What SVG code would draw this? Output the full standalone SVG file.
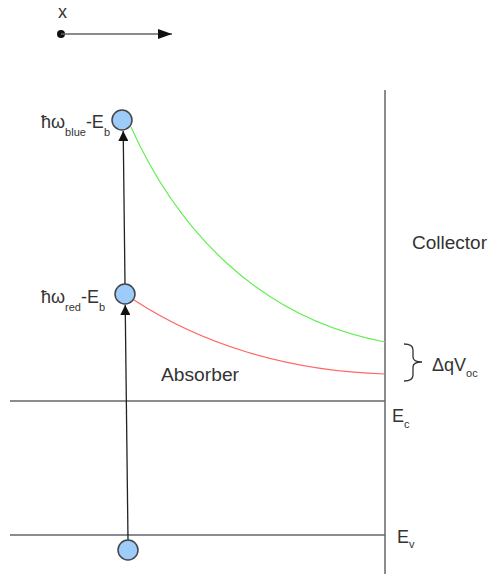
<svg xmlns="http://www.w3.org/2000/svg" width="490" height="574" viewBox="0 0 490 574">
<style>
text{font-family:"Liberation Sans",Arial,sans-serif;fill:#333;font-size:18px}
.sub{font-size:11px}
.ax{stroke:#666;stroke-width:1.5;fill:none}
.ar{stroke:#222;stroke-width:1.3;fill:none}
.dot{fill:#9dcbfa;stroke:#444;stroke-width:1.5}
</style>
<defs>
<marker id="ah" viewBox="0 0 10 10" refX="10" refY="5" markerWidth="10" markerHeight="10" markerUnits="userSpaceOnUse" orient="auto">
<path d="M0,0 L10,5 L0,10 z" fill="#111"/>
</marker>
<marker id="ah2" viewBox="0 0 14 10" refX="14" refY="5" markerWidth="14" markerHeight="10" markerUnits="userSpaceOnUse" orient="auto">
<path d="M0,0 L14,5 L0,10 z" fill="#111"/>
</marker>
</defs>
<g id="xaxis">
<text x="58" y="18" font-size="17">x</text>
<circle cx="61" cy="34" r="4" fill="#111"/>
<line x1="61" y1="34" x2="172" y2="34" stroke="#666" stroke-width="1.5" marker-end="url(#ah2)"/>
</g>
<g id="levels">
<line class="ax" x1="385" y1="90" x2="385" y2="574"/>
<line class="ax" x1="10" y1="401" x2="385" y2="401"/>
<line class="ax" x1="10" y1="535" x2="385" y2="535"/>
</g>
<g id="connectors">
<line class="ar" x1="128" y1="540" x2="125.2" y2="305" marker-end="url(#ah)"/>
<line class="ar" x1="125" y1="284" x2="123.2" y2="131" marker-end="url(#ah)"/>
<path d="M131,127 C175,225 255,318 385,342" stroke="#66ee55" stroke-width="1.2" fill="none"/>
<path d="M134,300 C200,343 285,371 385,374" stroke="#ff6666" stroke-width="1.2" fill="none"/>
<path d="M404,344 Q413,344 413,350 L413,357 Q413,362 422,362 Q413,362 413,367 L413,375 Q413,381 404,381" stroke="#333" stroke-width="1.3" fill="none"/>
</g>
<g id="node-blue">
<circle class="dot" cx="122" cy="120" r="10"/>
<text x="41" y="128">ħω<tspan class="sub" dy="8">blue</tspan><tspan dy="-8">-E</tspan><tspan class="sub" dy="8">b</tspan></text>
</g>
<g id="node-red">
<circle class="dot" cx="125" cy="294" r="10"/>
<text x="41" y="303">ħω<tspan class="sub" dy="8">red</tspan><tspan dy="-8">-E</tspan><tspan class="sub" dy="8">b</tspan></text>
</g>
<g id="node-bottom">
<circle class="dot" cx="128" cy="550" r="10"/>
</g>
<g id="labels">
<text x="412" y="249" textLength="75" lengthAdjust="spacingAndGlyphs">Collector</text>
<text x="161" y="381" textLength="78" lengthAdjust="spacingAndGlyphs">Absorber</text>
<text x="432" y="371" font-size="19">ΔqV<tspan class="sub" dy="6">oc</tspan></text>
<text x="392" y="422" font-size="19">E<tspan class="sub" dy="6">c</tspan></text>
<text x="397" y="543" font-size="19">E<tspan class="sub" dy="5">v</tspan></text>
</g>
</svg>
